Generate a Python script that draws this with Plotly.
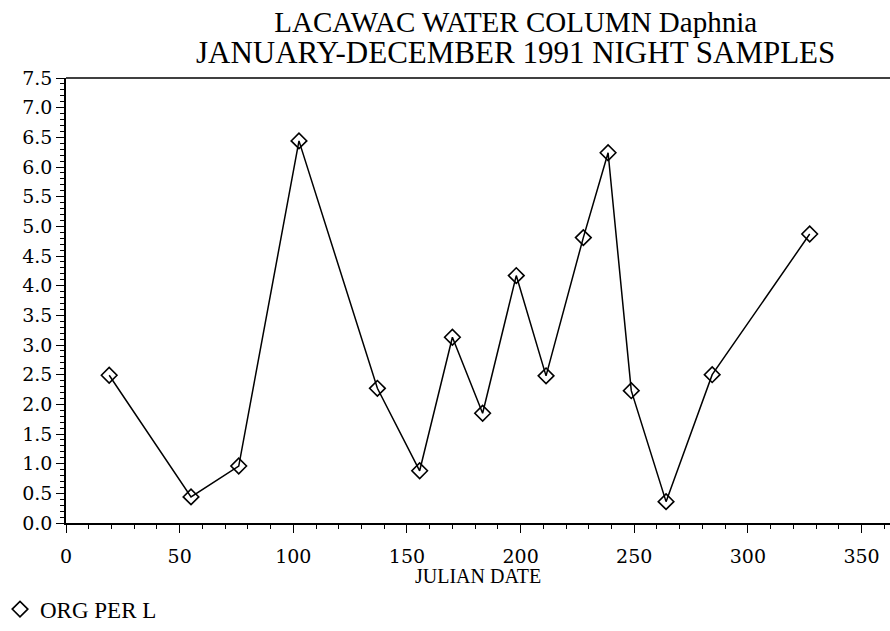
import plotly.graph_objects as go

julian_date = [19, 55, 76, 102.5, 137, 155.6, 170, 183.3, 198.1, 211.2, 227.6, 238.5, 248.7, 264, 284.3, 327.2]
org_per_l = [2.49, 0.44, 0.96, 6.44, 2.27, 0.88, 3.13, 1.85, 4.17, 2.48, 4.81, 6.24, 2.23, 0.36, 2.50, 4.87]

title_lines = ["LACAWAC WATER COLUMN Daphnia", "JANUARY-DECEMBER 1991 NIGHT SAMPLES"]
x_title = "JULIAN DATE"
series_name = "ORG PER L"

W, H = 890, 631
L, R, T, B = 58, 0, 78, 92
pw = W - L - R
ph = H - T - B
XSCALE = 2.295

fig = go.Figure()
fig.add_trace(go.Scatter(x=julian_date, y=org_per_l, mode="lines",
                         line=dict(color="black", width=1.5), showlegend=False,
                         hoverinfo="skip"))
fig.add_trace(go.Scatter(x=julian_date, y=org_per_l, mode="markers", name=series_name,
                         marker=dict(symbol="diamond-open", size=12, color="black",
                                     line=dict(color="black", width=1.6)),
                         showlegend=True))

tickfont = dict(family="DejaVu Serif", size=19, color="black")

fig.update_layout(
    width=W, height=H,
    margin=dict(l=L, r=R, t=T, b=B, pad=0),
    paper_bgcolor="white", plot_bgcolor="white",
    font=dict(family="Liberation Serif", color="black"),
    xaxis=dict(range=[0, pw / XSCALE], showgrid=False, zeroline=False,
               showline=True, linecolor="black", linewidth=1.6,
               tickmode="array", tickvals=[0, 50, 100, 150, 200, 250, 300, 350],
               ticks="outside", ticklen=8, tickwidth=1.3, tickcolor="black",
               ticklabelstandoff=7,
               minor=dict(dtick=10, ticks="outside", ticklen=4, tickwidth=1, tickcolor="black"),
               tickfont=tickfont),
    yaxis=dict(range=[0, 7.5], showgrid=False, zeroline=False,
               showline=True, linecolor="black", linewidth=1.6,
               tickmode="linear", tick0=0, dtick=0.5, tickformat=".1f",
               ticks="outside", ticklen=8, tickwidth=1.3, tickcolor="black",
               minor=dict(dtick=0.1, ticks="outside", ticklen=4, tickwidth=1, tickcolor="black"),
               tickfont=tickfont),
    legend=dict(x=-(L + 9) / pw, xanchor="left", y=-(606 - (H - B)) / ph, yanchor="top",
                font=dict(family="Liberation Serif", size=23, color="black"),
                itemwidth=30, bgcolor="rgba(0,0,0,0)", borderwidth=0),
    showlegend=True,
)

# top frame line
fig.add_shape(type="line", xref="paper", yref="paper", x0=0, x1=1, y0=1, y1=1,
              line=dict(color="black", width=1.6))

# two-line title as one text block
title_text = ("<span style='font-size:29px'>" + title_lines[0] + "</span><br>"
              "<span style='font-size:31px'>" + title_lines[1] + "</span>")
fig.add_annotation(text=title_text, xref="paper", yref="paper",
                   x=(512 - L) / pw, y=1 + (T - 37) / ph, xanchor="center", yanchor="middle",
                   showarrow=False,
                   font=dict(family="Liberation Serif", size=24, color="black"))

fig.add_annotation(text=x_title, xref="paper", yref="paper",
                   x=0.5, y=-(594 - (H - B)) / ph, xanchor="center", yanchor="middle",
                   showarrow=False,
                   font=dict(family="Liberation Serif", size=20, color="black"))

fig.write_html("out.html", config={"displayModeBar": False},
               post_script="document.body.style.margin='0';document.body.style.overflow='hidden';")
